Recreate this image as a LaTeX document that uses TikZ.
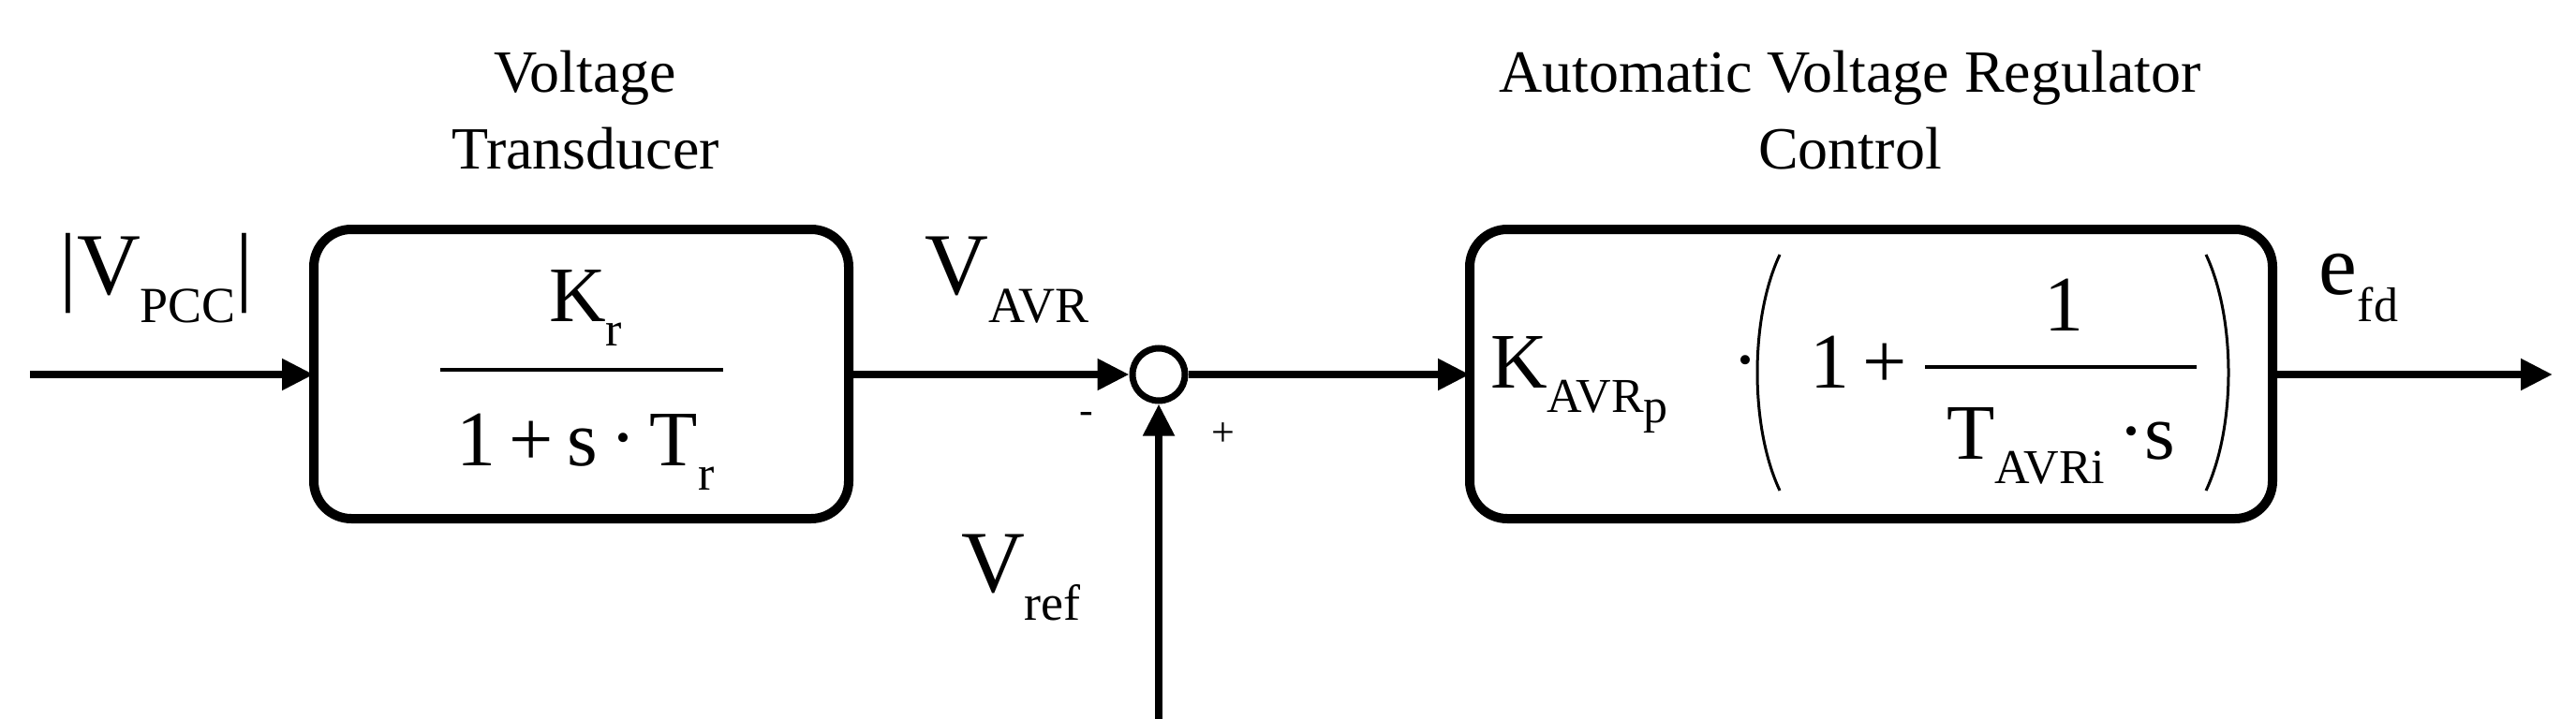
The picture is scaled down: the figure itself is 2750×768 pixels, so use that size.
\documentclass[tikz,border=0pt]{standalone}
\usepackage{fontspec}
\setmainfont{Liberation Serif}
\usetikzlibrary{arrows.meta}
\newcommand{\fsz}[1]{\fontsize{#1}{#1}\selectfont}
\newcommand{\sbx}[2]{\raisebox{-0.32em}{\fsz{#1}#2}}
\newcommand{\cdt}{\raisebox{0.02em}{·}}
\begin{document}
\begin{tikzpicture}[x=1pt,y=-1pt,
  blk/.style={draw,line width=10pt,rounded corners=40pt},
  wire/.style={line width=8pt,-{Triangle[length=34pt,width=32pt]}},
  lbl/.style={inner sep=0pt,anchor=base},
  ttl/.style={inner sep=0pt,align=center,font=\fontsize{64}{82}\selectfont}]
\useasboundingbox (0,0) rectangle (2750,768);
% blocks
\draw[blk] (335,245) rectangle (906,554);
\draw[blk] (1569,245) rectangle (2426,554);
\coordinate (b1w) at (335,400);
\coordinate (b1e) at (906,400);
\coordinate (b2w) at (1569,400);
\coordinate (b2e) at (2426,400);
\coordinate (in) at (32,400);
\coordinate (out) at (2725,400);
\coordinate (vr) at (1237,768);
\node[draw,circle,line width=7pt,minimum size=56pt,inner sep=0pt] (sum) at (1237,400) {};
\draw[wire] (in) -- (b1w);
\draw[wire] (b1e) -- (sum.west);
\draw[wire] (sum.east) -- (b2w);
\draw[wire] (b2e) -- (out);
\draw[wire] (vr) -- (sum.south);
% titles
\node[ttl] (t1) at (625,118) {Voltage\\Transducer};
\node[ttl] (t2) at (1975,118) {Automatic Voltage Regulator\\Control};
% labels
\node[lbl] (vpcc) at (167,314) {\fsz{94}|V\sbx{54}{PCC}|};
\node[lbl] (vavr) at (1075,314) {\fsz{94}V\sbx{54}{AVR}};
\node[lbl] (vref) at (1090,632) {\fsz{94}V\sbx{54}{ref}};
\node[lbl] (efd) at (2518,314) {\fsz{92}e\sbx{52}{fd}};
\node[lbl] (minus) at (1160,452) {\fsz{44}-};
\node[lbl] (plus) at (1306,476) {\fsz{44}+};
% block 1 content
\node[lbl] (kr) at (625,343) {\fsz{84}K\sbx{52}{r}};
\draw[line width=4pt] (470,395) -- (772,395);
\node[lbl] (den1) at (625,497) {\fsz{84}1\,+\,s\,\cdt\,T\sbx{52}{r}};
% block 2 content
\node[lbl,anchor=base west] (kp) at (1591,414) {\fsz{84}K\sbx{52}{AVR\raisebox{-0.2em}{p}}};
\node[lbl] (dot1) at (1863,414) {\fsz{84}\cdt};
\draw[line width=3pt] (1900,272) .. controls (1868,340) and (1868,456) .. (1900,524);
\draw[line width=3pt] (2355,272) .. controls (2387,340) and (2387,456) .. (2355,524);
\node[lbl,anchor=base west] (one) at (1932,414) {\fsz{84}1\,+};
\draw[line width=4pt] (2055,392) -- (2345,392);
\node[lbl] (num2) at (2203,353) {\fsz{84}1};
\node[lbl] (den2) at (2200,490) {\fsz{84}T\sbx{52}{AVRi}\,\cdt s};
\end{tikzpicture}
\end{document}
